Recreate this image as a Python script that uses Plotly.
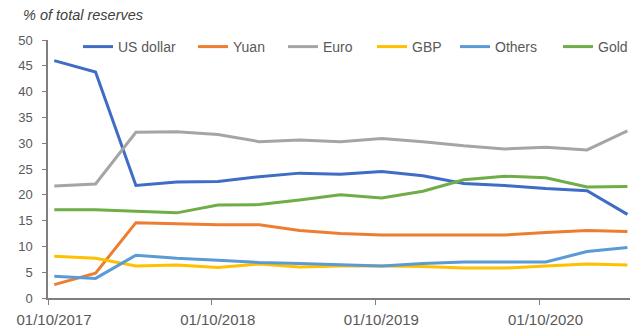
import plotly.graph_objects as go

dates = ["2017-10-15", "2018-01-15", "2018-04-15", "2018-07-15", "2018-10-15",
         "2019-01-15", "2019-04-15", "2019-07-15", "2019-10-15", "2020-01-15",
         "2020-04-15", "2020-07-15", "2020-10-15", "2021-01-15", "2021-04-15"]

us_dollar = [46.0, 43.8, 21.8, 22.5, 22.6, 23.5, 24.2, 24.0, 24.5, 23.7, 22.2, 21.8, 21.2, 20.8, 16.2]
yuan = [2.6, 4.8, 14.6, 14.4, 14.2, 14.2, 13.1, 12.5, 12.2, 12.2, 12.2, 12.2, 12.7, 13.1, 12.9]
euro = [21.7, 22.1, 32.1, 32.2, 31.7, 30.3, 30.6, 30.3, 30.9, 30.3, 29.5, 28.9, 29.2, 28.7, 32.4]
gbp = [8.1, 7.7, 6.2, 6.4, 5.9, 6.6, 6.0, 6.2, 6.2, 6.1, 5.8, 5.8, 6.2, 6.6, 6.4]
others = [4.2, 3.8, 8.3, 7.7, 7.3, 6.9, 6.7, 6.4, 6.2, 6.7, 7.0, 7.0, 7.0, 9.0, 9.8]
gold = [17.1, 17.1, 16.8, 16.5, 18.0, 18.1, 19.0, 20.0, 19.4, 20.7, 22.9, 23.6, 23.3, 21.5, 21.6]

names = ["US dollar", "Yuan", "Euro", "GBP", "Others", "Gold"]
values = [us_dollar, yuan, euro, gbp, others, gold]
colors = ["#3F6CC4", "#ED7D31", "#A5A5A5", "#FFC000", "#5B9BD5", "#70AD47"]
# left edge (px in the page) of each legend entry's line sample
legend_px = [83, 198, 288, 377, 460, 563]

grey = "#595959"
font_family = "Liberation Sans"

# page body margin offset (8 px) compensated in figure size / margins
PAGE = 8
W, H = 638 - PAGE, 327 - PAGE
ML, MT, MR, MB = 48 - PAGE, 40 - PAGE, 6, 29
PW, PH = W - ML - MR, H - MT - MB
plot_left_abs = ML + PAGE
plot_top_abs = MT + PAGE

fig = go.Figure()
legend_layout = {}
for i, (name, vals, color) in enumerate(zip(names, values, colors)):
    key = "legend" if i == 0 else f"legend{i + 1}"
    fig.add_trace(go.Scatter(x=dates, y=vals, name=name, mode="lines",
                             line=dict(color=color, width=3), legend=key))
    legend_layout[key] = dict(
        orientation="h",
        x=(legend_px[i] - 5 - plot_left_abs) / PW, xanchor="left",
        y=1 - (47 - plot_top_abs) / PH, yanchor="middle",
        font=dict(size=14, color=grey), bgcolor="rgba(0,0,0,0)",
    )

fig.update_layout(
    width=W, height=H,
    margin=dict(l=ML, r=MR, t=MT, b=MB),
    paper_bgcolor="white", plot_bgcolor="white",
    font=dict(family=font_family, size=12, color=grey),
    showlegend=True,
    annotations=[dict(text="<i>% of total reserves</i>", xref="paper", yref="paper",
                      x=(21 - plot_left_abs) / PW, y=1 + (plot_top_abs - 15) / PH,
                      xanchor="left", yanchor="middle",
                      showarrow=False, font=dict(size=14.5, color="#404040"))],
    **legend_layout,
)

fig.update_xaxes(
    type="date", range=["2017-10-01", "2021-04-23"],
    tick0="2017-10-01", dtick="M12", tickformat="%d/%m/%Y",
    showgrid=False, zeroline=False,
    showline=True, linecolor="#7F7F7F", linewidth=1.5,
    ticks="outside", ticklen=5, tickcolor="#7F7F7F",
    tickfont=dict(size=15, color=grey),
    ticklabelstandoff=2, ticklabelshift=6, automargin=False,
)
fig.update_yaxes(
    range=[0, 50], dtick=5, showgrid=False, zeroline=False,
    showline=True, linecolor="#7F7F7F", linewidth=1.5,
    ticks="outside", ticklen=4, tickcolor="#7F7F7F",
    tickfont=dict(size=13, color=grey),
    ticklabelstandoff=7, automargin=False,
)

fig.write_html("out.html")
